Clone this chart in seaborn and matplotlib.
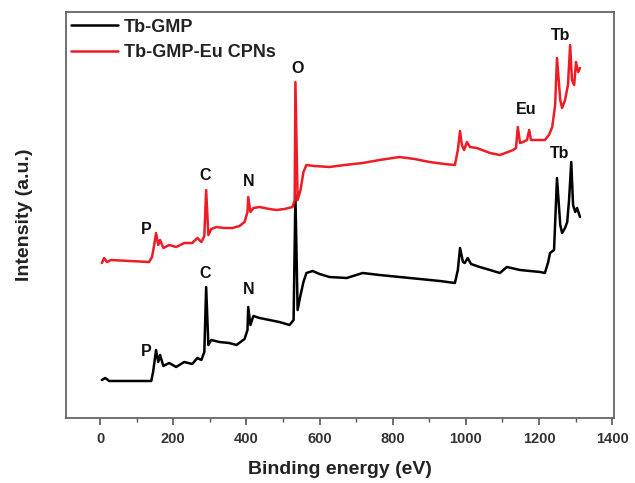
import numpy as np
import pandas as pd
import matplotlib
matplotlib.use("Agg")
import matplotlib.pyplot as plt
import seaborn as sns
from matplotlib.ticker import MultipleLocator

# ---- data ----
series_names = ["Tb-GMP", "Tb-GMP-Eu CPNs"]

energy_black = [5, 14, 25, 140, 145, 153, 159, 164, 173, 189, 208, 230, 252, 266, 277, 285, 290,
                296, 304, 326, 353, 373, 395, 403, 405, 411, 419, 436, 463, 490, 518, 529, 534,
                540, 548, 556, 564, 581, 600, 627, 674, 718, 764, 819, 874, 929, 970, 978, 984,
                992, 997, 1005, 1014, 1038, 1066, 1093, 1112, 1148, 1203, 1216, 1225, 1230, 1241,
                1249, 1258, 1263, 1271, 1277, 1282, 1288, 1293, 1299, 1304, 1312]
intensity_black = [38, 40, 37, 37, 46, 68, 56, 63, 52, 55, 51, 56, 54, 60, 58, 66, 131,
                   73, 78, 76, 75, 73, 79, 88, 111, 93, 102, 100, 98, 96, 93, 98, 223,
                   108, 123, 136, 145, 147, 144, 141, 140, 145, 143, 141, 139, 137, 135, 148, 170,
                   156, 155, 160, 154, 151, 148, 145, 151, 148, 146, 145, 156, 165, 168,
                   240, 193, 185, 190, 196, 218, 256, 213, 206, 210, 201]

energy_red = [5, 11, 19, 30, 134, 142, 148, 153, 159, 164, 173, 189, 208, 230, 252, 266, 277, 285,
              290, 296, 304, 318, 340, 362, 381, 395, 403, 405, 411, 419, 436, 463, 482, 504, 526,
              532, 534, 540, 548, 556, 564, 586, 627, 668, 718, 764, 800, 819, 860, 901, 942, 970,
              978, 984, 989, 995, 1003, 1011, 1030, 1066, 1093, 1115, 1129, 1137, 1142, 1148, 1156,
              1167, 1173, 1178, 1189, 1216, 1227, 1236, 1244, 1249, 1258, 1263, 1271, 1279, 1285,
              1290, 1296, 1301, 1307, 1312]
intensity_red = [155, 160, 156, 158, 156, 161, 173, 185, 173, 178, 170, 173, 171, 175, 175, 180, 176, 182,
                 228, 183, 189, 191, 190, 190, 192, 196, 206, 221, 206, 210, 211, 209, 208, 209, 211,
                 218, 336, 218, 228, 246, 253, 252, 251, 253, 255, 258, 260, 261, 259, 256, 254, 253,
                 268, 287, 273, 268, 276, 271, 270, 265, 263, 266, 268, 270, 291, 275, 276,
                 278, 288, 278, 278, 278, 283, 291, 313, 360, 318, 310, 318, 333, 373,
                 338, 333, 356, 346, 350]

label_text_red = ["P", "C", "N", "O", "Eu", "Tb"]
label_e_red = [126, 288, 405, 540, 1164, 1258]
label_i_red = [189, 243, 237, 350, 309, 383]

label_text_black = ["P", "C", "N", "Tb"]
label_e_black = [126, 288, 405, 1255]
label_i_black = [66, 145, 129, 265]

x_ticks = [0, 200, 400, 600, 800, 1000, 1200, 1400]

# ---- build table ----
df = pd.concat([
    pd.DataFrame({"Binding energy (eV)": energy_black, "Intensity": intensity_black,
                  "Sample": series_names[0]}),
    pd.DataFrame({"Binding energy (eV)": energy_red, "Intensity": intensity_red,
                  "Sample": series_names[1]}),
], ignore_index=True)

sns.set_style("ticks")
plt.rcParams["font.family"] = ["Liberation Sans", "DejaVu Sans"]
plt.rcParams["font.weight"] = "bold"

fig = plt.figure(figsize=(6.35, 4.83), dpi=100)
ax = fig.add_axes([0.104, 0.1346, 0.863, 0.8405])

palette = {series_names[0]: "#000000", series_names[1]: "#ee1c24"}
sns.lineplot(data=df, x="Binding energy (eV)", y="Intensity", hue="Sample",
             palette=palette, sort=False, estimator=None, units="Sample",
             linewidth=1.8, ax=ax)

for t, e, i in zip(label_text_red, label_e_red, label_i_red):
    ax.text(e, i, t, ha="center", va="center", fontsize=11.5, fontweight="bold", color="#111111")
for t, e, i in zip(label_text_black, label_e_black, label_i_black):
    ax.text(e, i, t, ha="center", va="center", fontsize=11.5, fontweight="bold", color="#111111")

ax.set_xlim(-93, 1405)
ax.set_ylim(0, 406)
ax.set_xticks(x_ticks)
ax.xaxis.set_minor_locator(MultipleLocator(100))
ax.set_yticks([])
ax.tick_params(axis="x", which="major", direction="out", length=5, width=1.2,
               color="#555555", labelsize=10.5, pad=5)
ax.tick_params(axis="x", which="minor", direction="out", length=3, width=1.0, color="#555555")
for lab in ax.get_xticklabels():
    lab.set_fontweight("bold")
    lab.set_color("#333333")
for s in ax.spines.values():
    s.set_visible(True)
    s.set_color("#666666")
    s.set_linewidth(1.3)

ax.set_xlabel("Binding energy (eV)", fontsize=14, fontweight="bold", color="#222222", labelpad=11)
ax.set_ylabel("Intensity (a.u.)", fontsize=14, fontweight="bold", color="#222222", labelpad=24)

leg = ax.legend(loc="upper left", bbox_to_anchor=(-0.01, 1.01), frameon=False,
                handlelength=2.6, handletextpad=0.3, labelspacing=0.45,
                prop={"size": 13, "weight": "bold"}, borderaxespad=0.2)
for txt in leg.get_texts():
    txt.set_color("#222222")

fig.savefig("out.png", dpi=100)
